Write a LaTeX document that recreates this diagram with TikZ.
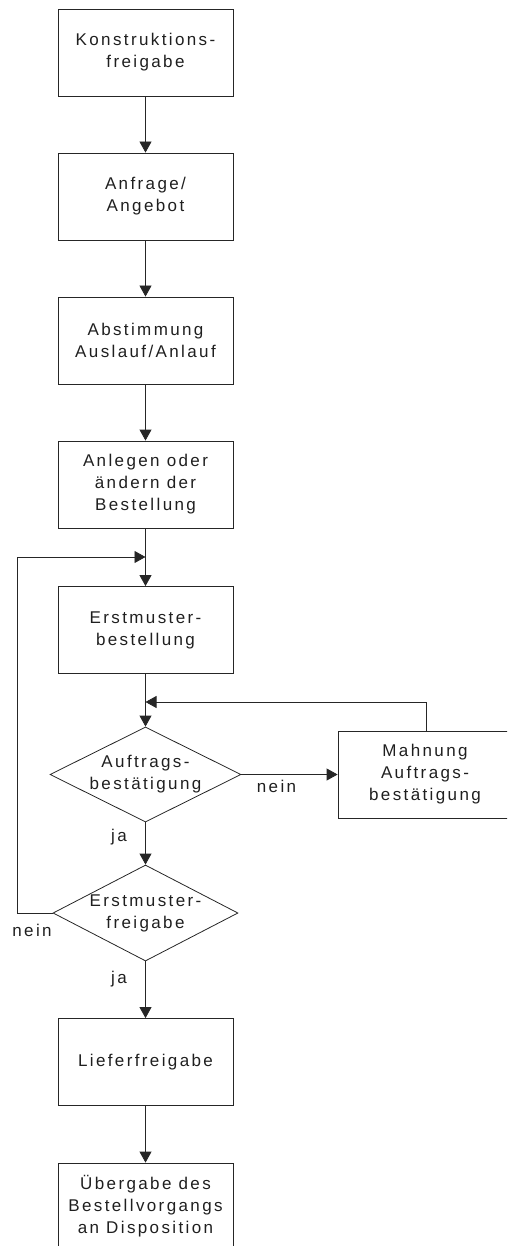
\documentclass[tikz,border=0pt]{standalone}
\usepackage{fontspec}
\setmainfont{Liberation Sans}[LetterSpace=14]
\usetikzlibrary{arrows.meta,shapes.geometric}
\begin{document}
\begin{tikzpicture}[x=1pt,y=-1pt,
  txt/.style={font=\fontsize{17}{22}\selectfont, text=black!88},
  box/.style={txt, draw=black!85, line width=0.8pt, minimum width=175pt, minimum height=87pt, align=center, inner sep=0pt},
  dia/.style={draw=black!85, line width=0.8pt, shape=diamond, inner sep=0pt},
  arr/.style={-{Triangle[width=12pt,length=11pt]}, line width=0.8pt, draw=black!85},
  ln/.style={line width=0.8pt, draw=black!85},
  lbl/.style={txt, anchor=base, inner sep=0pt}]
\useasboundingbox (0,0) rectangle (507,1246);
\clip (0,0) rectangle (507,1246);
\node[box] (b1) at (145.5,52.5) {Konstruktions-\\freigabe};
\node[box] (b2) at (145.5,196.5) {Anfrage/\\Angebot};
\node[box] (b3) at (145.5,340.5) {Abstimmung\\Auslauf/Anlauf};
\node[box] (b4) at (145.5,484.5) {Anlegen oder\\ändern der\\Bestellung};
\node[box] (b5) at (145.5,630) {Erstmuster-\\bestellung};
\node[dia, minimum width=191pt, minimum height=95pt,
  label={[txt,align=center]center:Auftrags-\\bestätigung}] (d1) at (145.5,774.5) {};
\node[box, minimum width=174pt] (m) at (425,774.5) {Mahnung\\Auftrags-\\bestätigung};
\node[dia, minimum width=185pt, minimum height=96pt,
  label={[txt,align=center]center:Erstmuster-\\freigabe}] (d2) at (145.5,913) {};
\node[box] (b6) at (145.5,1062) {Lieferfreigabe};
\node[box] (b7) at (145.5,1206.5) {Übergabe des\\Bestellvorgangs\\an Disposition};
\coordinate (j1) at (145.5,557);
\coordinate (j2) at (145.5,702);
\coordinate (l1) at (17,913);
\coordinate (l2) at (17,557);
\coordinate (r1) at (426,702);
\draw[arr] (b1.south) -- (b2.north);
\draw[arr] (b2.south) -- (b3.north);
\draw[arr] (b3.south) -- (b4.north);
\draw[arr] (b4.south) -- (b5.north);
\draw[arr] (b5.south) -- (d1.north);
\draw[arr] (d1.east) -- (m.west);
\draw[arr] (m.north -| r1) -- (r1) -- (j2);
\draw[arr] (d1.south) -- (d2.north);
\draw[arr] (d2.west) -- (l1) -- (l2) -- (j1);
\draw[arr] (d2.south) -- (b6.north);
\draw[arr] (b6.south) -- (b7.north);
\node[lbl] (n1) at (276.5,792.7) {nein};
\node[lbl] (y1) at (119,841.7) {ja};
\node[lbl] (n2) at (32,936.7) {nein};
\node[lbl] (y2) at (119,983) {ja};
\end{tikzpicture}
\end{document}
